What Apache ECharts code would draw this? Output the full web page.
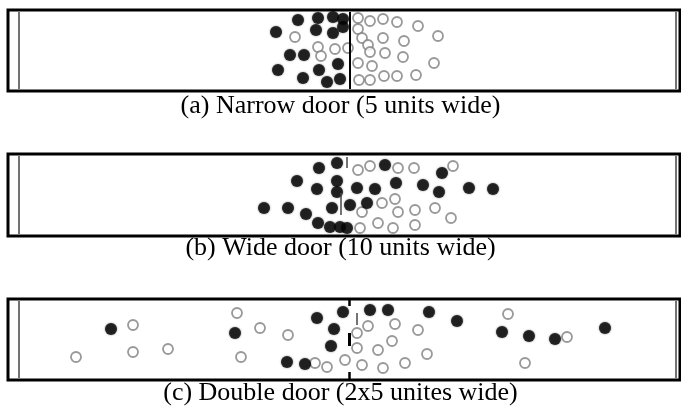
<!DOCTYPE html>
<html>
<head>
<meta charset="utf-8">
<script src="https://cdn.jsdelivr.net/npm/echarts@6/dist/echarts.min.js"></script>
<style>
  html, body { margin: 0; padding: 0; background: #fff; }
  #chart { width: 681px; height: 410px; }
</style>
</head>
<body>
<div id="chart"></div>
<script>
// captions of the three panels
const captions = [
  '(a) Narrow door (5 units wide)',
  '(b) Wide door (10 units wide)',
  '(c) Double door (2x5 unites wide)'
];

// agent positions [x along corridor, depth from top wall]
// filled = agents of one group, hollow = agents of the other group
const filledA = [[276,22],[298,10],[318,8],[333,7],[343,9],[316,20],[333,23],[343,17],[290,45],[304,45],
  [278,60],[303,68],[319,60],[338,54],[327,72],[340,69]];
const hollowA = [[295,27],[318,37],[321,46],[335,39],[348,38],[358,8],[370,11],[383,9],[397,12],[418,16],
  [438,26],[358,19],[362,28],[383,28],[404,31],[368,35],[370,42],[385,43],[403,47],[434,53],[358,53],
  [372,56],[359,70],[370,70],[384,66],[397,66],[416,65]];

const filledB = [[319,14],[337,9],[297,27],[317,35],[337,27],[337,38],[357,34],[367,49],[264,54],[288,54],
  [306,60],[318,69],[332,54],[350,51],[330,73],[340,73],[347,74],[385,11],[396,29],[423,31],[439,38],
  [442,19],[469,34],[493,35],[375,35]];
const hollowB = [[358,16],[370,12],[398,14],[414,14],[453,12],[382,49],[395,45],[398,58],[415,56],[435,54],
  [451,64],[378,69],[393,74],[415,71],[360,74],[362,58]];

const filledC = [[111,30],[235,34],[317,19],[343,13],[334,30],[331,47],[287,63],[305,65],[370,11],[388,11],
  [429,13],[457,22],[502,33],[529,37],[555,40],[605,29]];
const hollowC = [[133,26],[76,58],[133,53],[168,50],[237,14],[260,29],[288,36],[241,58],[327,68],[345,61],
  [357,49],[315,64],[368,27],[395,25],[418,31],[392,42],[378,51],[427,55],[362,66],[383,69],[405,64],
  [508,15],[567,38],[525,64],[357,34]];

// door / wall segments [x, yFrom, yTo, width]
const doorA = [[350, 2, 79, 2]];
const doorB = [[341, 39, 61, 1.5], [347, 3, 14, 1.5]];
const doorC = [[349, 0, 7, 2.5], [349, 34, 47, 3], [349, 73, 81, 2.5], [357, 14, 26, 1.5]];

const panels = [
  { top: 10, height: 81, filled: filledA, hollow: hollowA, door: doorA, capTop: 93 },
  { top: 154, height: 82, filled: filledB, hollow: hollowB, door: doorB, capTop: 235 },
  { top: 299, height: 81, filled: filledC, hollow: hollowC, door: doorC, capTop: 380 }
];

const gridLeft = 8, gridRight = 1, W = 681;

const chart = echarts.init(document.getElementById('chart'));

const grid = [], xAxis = [], yAxis = [], series = [], title = [];
panels.forEach(function (p, i) {
  grid.push({ left: gridLeft, right: gridRight, top: p.top, height: p.height,
    show: true, borderColor: '#000', borderWidth: 3, backgroundColor: '#fff' });
  xAxis.push({ gridIndex: i, type: 'value', min: gridLeft, max: W - gridRight, show: false });
  yAxis.push({ gridIndex: i, type: 'value', min: 0, max: p.height, inverse: true, show: false });

  // thin side walls and door marks
  const segs = [[19, 2, p.height - 2, 1.5], [676, 2, p.height - 2, 1.5]].concat(p.door);
  series.push({
    type: 'scatter', xAxisIndex: i, yAxisIndex: i, data: [], silent: true,
    markLine: {
      silent: true, symbol: 'none', animation: false,
      label: { show: false },
      data: segs.map(function (s) {
        return [
          { coord: [s[0], s[1]], lineStyle: { color: s[3] > 1.6 ? '#000' : '#444', width: s[3], type: 'solid' } },
          { coord: [s[0], s[2]] }
        ];
      })
    }
  });
  series.push({
    type: 'scatter', xAxisIndex: i, yAxisIndex: i, data: p.hollow,
    symbol: 'circle', symbolSize: 10, animation: false,
    itemStyle: { color: '#fff', borderColor: '#808080', borderWidth: 1.8 }
  });
  series.push({
    type: 'scatter', xAxisIndex: i, yAxisIndex: i, data: p.filled,
    symbol: 'circle', symbolSize: 12, animation: false,
    itemStyle: { color: '#050505', shadowBlur: 2, shadowColor: 'rgba(0,0,0,0.6)' }
  });

  title.push({
    text: captions[i], left: 'center', top: p.capTop, padding: 0,
    textStyle: { fontFamily: '"Liberation Serif", "Times New Roman", serif', fontSize: 26,
      fontWeight: 'normal', color: '#000' }
  });
});

chart.setOption({
  animation: false,
  title: title,
  grid: grid,
  xAxis: xAxis,
  yAxis: yAxis,
  series: series
});
</script>
</body>
</html>
